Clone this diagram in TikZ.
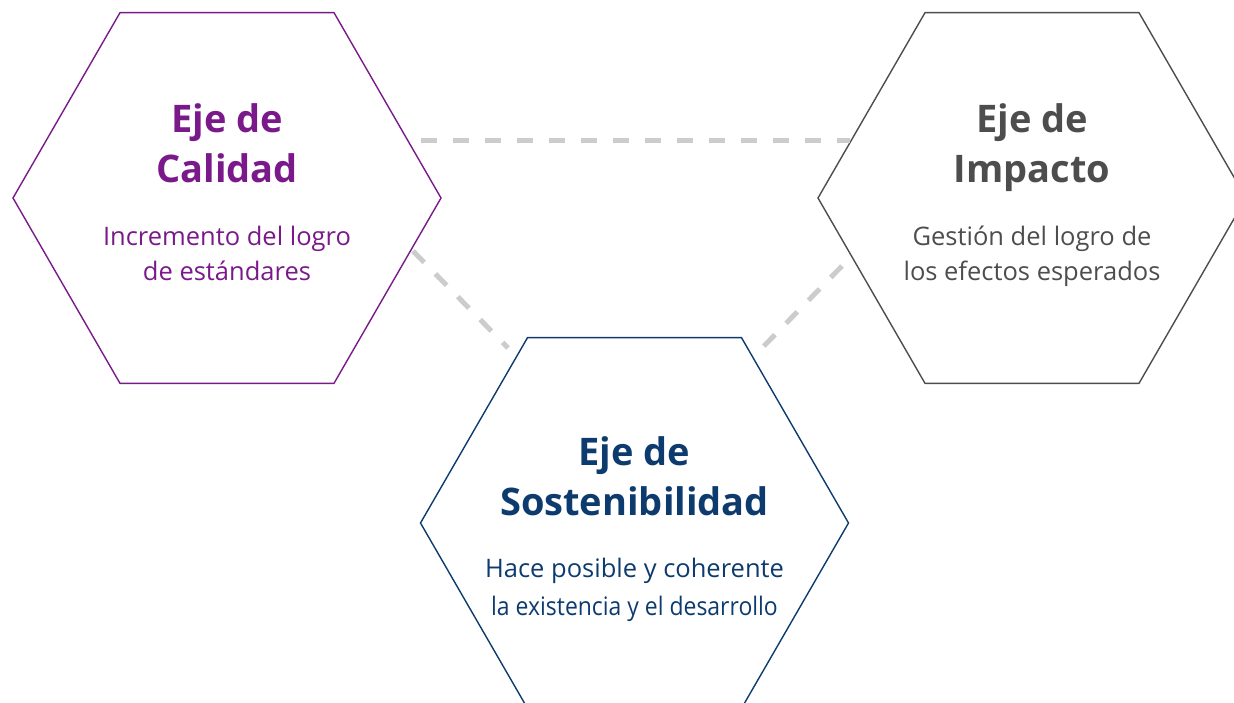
\documentclass[tikz,border=0pt]{standalone}
\usepackage{fontspec}
\setmainfont{Open Sans}
\usepackage{tikz}
\usetikzlibrary{shapes.geometric}
\definecolor{calpurple}{HTML}{7A1A8A}
\definecolor{impgrey}{HTML}{4D4D4D}
\definecolor{sosblue}{HTML}{0D3B6E}
\definecolor{linkgrey}{HTML}{CCCCCC}
\tikzset{
  hexa/.style={draw,regular polygon,regular polygon sides=6,minimum size=428pt,inner sep=0pt,outer sep=0pt,line width=1.4pt},
  title/.style={align=center,anchor=base,font=\fontsize{38}{50}\selectfont\bfseries},
  subtitle/.style={align=center,anchor=base,font=\fontsize{25.5}{35}\selectfont},
  link/.style={linkgrey,line width=5pt,dash pattern=on 16pt off 16pt}
}
\begin{document}
\begin{tikzpicture}[x=1pt,y=-1pt]
        \clip (0,0) rectangle (1234,703);
        % Define the nodes for the three axes
        \node[hexa,calpurple] (cal) at (227,198)   {};
        \node[hexa,impgrey]   (imp) at (1032,198)  {};
        \node[hexa,sosblue]   (sos) at (634.5,523) {};
        % Ends of the dashed links
        \coordinate (calT) at (421,141);
        \coordinate (impT) at (850,141);
        \coordinate (calB) at (413,251);
        \coordinate (sosL) at (508,348);
        \coordinate (impB) at (842,266);
        \coordinate (sosR) at (762,348);
        % Connect the axes
        \draw[link] (calT) -- (impT);
        \draw[link] (calB) -- (sosL);
        \draw[link] (impB) -- (sosR);
        % Texts of the axes
        \node[title,calpurple]    (calt) at (227,183)   {Eje de\\Calidad};
        \node[subtitle,calpurple] (cals) at (227,280)   {Incremento del logro\\de estándares};
        \node[title,impgrey]      (impt) at (1032,183)  {Eje de\\Impacto};
        \node[subtitle,impgrey]   (imps) at (1032,280)  {Gestión del logro de\\los efectos esperados};
        \node[title,sosblue]      (sost) at (634.5,515) {Eje de\\Sostenibilidad};
        \node[subtitle,sosblue]   (soss) at (634.5,615) {Hace posible y coherente\\[3pt]\scalebox{0.9}[1]{la existencia y el desarrollo}};
    \end{tikzpicture}
\end{document}
